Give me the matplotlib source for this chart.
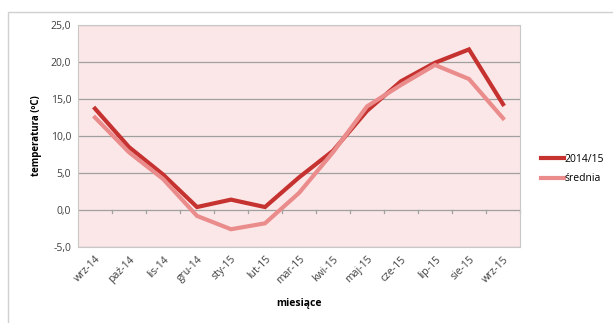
import matplotlib.pyplot as plt
from matplotlib.patches import Rectangle

miesiace = ["wrz-14", "paź-14", "lis-14", "gru-14", "sty-15", "lut-15", "mar-15",
            "kwi-15", "maj-15", "cze-15", "lip-15", "sie-15", "wrz-15"]
temp_2014_15 = [13.7, 8.5, 4.8, 0.4, 1.4, 0.4, 4.4, 8.0, 13.4, 17.4, 19.9, 21.7, 14.3]
srednia = [12.5, 7.8, 4.2, -0.8, -2.6, -1.8, 2.3, 7.8, 14.0, 16.9, 19.6, 17.7, 12.4]
y_ticks = [-5, 0, 5, 10, 15, 20, 25]

plt.rcParams['font.family'] = ['Open Sans', 'DejaVu Sans']

fig = plt.figure(figsize=(6.13, 3.23), dpi=100)
fig.patches.append(Rectangle((8 / 613, -0.1), 1.2, 1 - 12 / 323 + 0.1,
                             transform=fig.transFigure, fill=False,
                             edgecolor='#d0d0d0', linewidth=1))

ax = fig.add_axes([78 / 613, 1 - 247 / 323, 442 / 613, 222 / 323])
ax.set_facecolor('#fbe7e7')

x = range(len(miesiace))
ax.plot(x, temp_2014_15, color='#c53230', linewidth=3, label='2014/15', solid_joinstyle='miter')
ax.plot(x, srednia, color='#eb8c8c', linewidth=3, label='średnia', solid_joinstyle='miter')

ax.set_xlim(-0.5, len(miesiace) - 0.5)
ax.set_ylim(-5, 25)
ax.set_yticks(y_ticks)
ax.set_yticklabels([f"{v:.1f}".replace('.', ',') for v in y_ticks], fontsize=7.5, color='#404040')
ax.yaxis.grid(True, color='#a0a0a0', linewidth=0.9)
ax.set_axisbelow(True)
ax.set_xticks(list(x))
ax.set_xticklabels(miesiace, rotation=45, ha='right', rotation_mode='anchor', fontsize=7.5, color='#404040')
ax.tick_params(axis='both', length=0, pad=5)

# tick marks on the zero line between categories
for b in range(1, len(miesiace) + 1):
    ax.plot([b - 0.5, b - 0.5], [0, -0.45], color='#a0a0a0', linewidth=0.9, clip_on=False)

for side in ['top', 'right', 'bottom', 'left']:
    ax.spines[side].set_color('#c8c8c8')
    ax.spines[side].set_linewidth(0.8)

ax.set_ylabel('temperatura (ºC)', fontsize=7, fontweight='bold', labelpad=6)
ax.set_xlabel('miesiące', fontsize=7.5, fontweight='bold', labelpad=8)

ax.legend(loc='center left', bbox_to_anchor=(1.035, 0.35), frameon=False, fontsize=7.5,
          handlelength=2.2, handletextpad=0.1, labelspacing=0.8, borderpad=0)

fig.savefig('out.png', dpi=100)
